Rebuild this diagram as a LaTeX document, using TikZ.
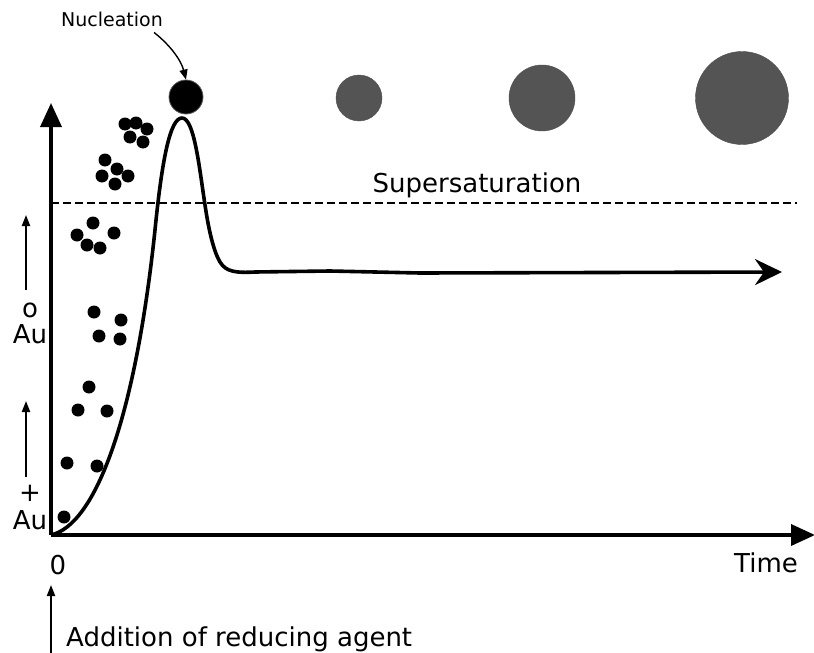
\documentclass[tikz,border=0pt]{standalone}
\usepackage{fontspec}
\setmainfont{DejaVu Sans}
\usetikzlibrary{arrows.meta}
\begin{document}
\begin{tikzpicture}[x=1pt,y=-1pt,
  dot/.style={circle,fill=black,inner sep=0pt,minimum size=13pt},
  grain/.style={circle,fill=gray!66!black,draw=gray!60!black,inner sep=0pt},
  lbl/.style={font=\fontsize{26}{29}\selectfont,inner sep=0pt},
  small/.style={font=\fontsize{19}{21}\selectfont,inner sep=0pt},
  axis/.style={line width=3.6pt,-{Triangle[length=24pt,width=21pt]}},
  thin arrow/.style={line width=2pt,-{Triangle[length=11pt,width=8pt]}}]
\useasboundingbox (0,0) rectangle (814,653);
% axes
\coordinate (O) at (51,535);
\coordinate (ytip) at (51,103);
\coordinate (xtip) at (815,535);
\draw[axis] (O) -- (ytip);
\draw[axis] (O) -- (xtip);
% supersaturation
\coordinate (ds) at (51,203);
\coordinate (de) at (797,203);
\draw[line width=2.2pt,dash pattern=on 8pt off 4pt] (ds) -- (de);
\node[lbl,anchor=base] (sup) at (477,192) {Supersaturation};
% curve
\coordinate (cend) at (782,272);
\draw[line width=3.6pt,line join=round,-{Stealth[length=27pt,width=26pt,inset=9pt]}]
  (O) .. controls (95,525) and (135,420) .. (155,230)
      .. controls (162,160) and (170,118) .. (182,118)
      .. controls (194,118) and (199,165) .. (205,205)
      .. controls (209,232) and (214,252) .. (220,262)
      .. controls (226,272) and (236,273) .. (255,272)
      -- (330,271) -- (420,273) -- (cend);
% particles
\node[circle,fill=black,draw=gray!70!black,line width=0.8pt,inner sep=0pt,minimum size=34pt] (nc) at (186,97) {};
\node[grain,minimum size=46pt] (g1) at (359,98) {};
\node[grain,minimum size=66pt] (g2) at (542,98) {};
\node[grain,minimum size=93pt] (g3) at (742,98) {};
% nucleation label
\node[small,anchor=base] (nuc) at (112,27) {Nucleation};
\draw[line width=1.4pt,-{Triangle[length=10pt,width=8pt]}]
  ([xshift=-9pt,yshift=-5pt]nuc.south east) .. controls (170,45) and (181,60) .. (nc.north);
% dots
\foreach \p [count=\i] in {(125,124),(136,123),(147,129),(130,137),(143,142),
   (105,160),(117,169),(128,176),(102,176),(115,184),
   (93,223),(77,235),(87,245),(100,248),(114,233),
   (94,312),(121,320),(99,336),(120,339),
   (89,387),(78,410),(107,411),
   (67,463),(97,466),(64,517)}
   \node[dot] (d\i) at \p {};
% left labels
\node[lbl] (o) at (30,310) {o};
\node[lbl,anchor=base] (au1) at (30,343) {Au};
\node[lbl] (plus) at (30,493) {+};
\node[lbl,anchor=base] (au2) at (30,529) {Au};
\coordinate (a1s) at (26,290);
\coordinate (a1e) at (26,215);
\coordinate (a2s) at (26,477);
\coordinate (a2e) at (26,401);
\draw[thin arrow] (a1s) -- (a1e);
\draw[thin arrow] (a2s) -- (a2e);
% bottom labels
\node[lbl,anchor=base] (zero) at (58,574) {0};
\node[lbl,anchor=base] (time) at (766,572) {Time};
\node[lbl,anchor=base west] (add) at (66,646) {Addition of reducing agent};
\coordinate (a3s) at (51,653);
\coordinate (a3e) at (51,585);
\draw[thin arrow] (a3s) -- (a3e);
\end{tikzpicture}
\end{document}
